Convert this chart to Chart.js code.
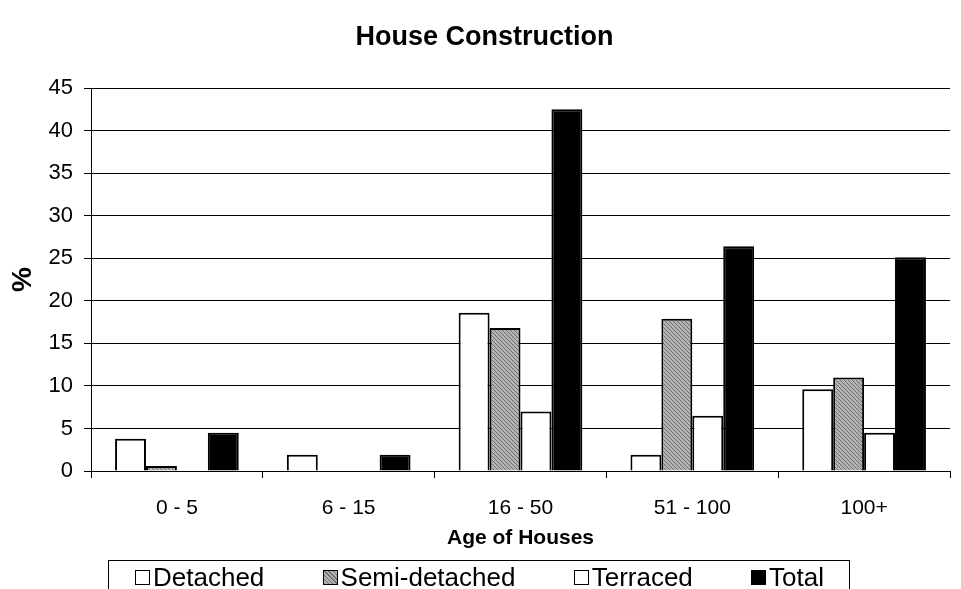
<!DOCTYPE html>
<html>
<head>
<meta charset="utf-8">
<script src="https://cdn.jsdelivr.net/npm/chart.js@4.4.1/dist/chart.umd.min.js"></script>
<style>
    html, body { margin:0; padding:0; background:#fff; overflow:hidden; }
    #contenedor { position:relative; width:961px; height:589px; }
    #grafico { display:block; }
    #leyenda {
        position:absolute;
        left:108px;
        top:560px;
        width:742px;
        height:40px;
        box-sizing:border-box;
        padding:3px 25px 0 26px;
        border:1px solid #000;
        display:flex;
        justify-content:space-between;
        align-items:flex-start;
        font-family:'Liberation Sans', Arial, sans-serif;
        font-size:26px;
        line-height:26px;
        color:#000;
    }
    #leyenda .item { display:flex; align-items:center; white-space:nowrap; }
    #leyenda .marca {
        width:15px;
        height:15px;
        border:1px solid #000;
        margin-right:3px;
        box-sizing:border-box;
    }
</style>
</head>
<body>
<div id="contenedor">
    <canvas id="grafico" width="961" height="589"></canvas>
    <div id="leyenda"></div>
</div>
<script>

const categorias = ["0 - 5", "6 - 15", "16 - 50", "51 - 100", "100+"];

const detached = [3.8, 1.9, 18.6, 1.9, 9.6];
const semiDetached = [0.6, 0, 16.8, 17.9, 11.0];
const terraced = [0, 0, 7.0, 6.5, 4.5];
const total = [4.5, 1.9, 42.5, 26.4, 25.1];

const tituloGrafico = "House Construction";
const tituloEjeX = "Age of Houses";
const tituloEjeY = "%";

const fuente = "'Liberation Sans', Arial, sans-serif";

function crearTrama(){

    const c = document.createElement("canvas");
    c.width = 4;
    c.height = 4;
    const ctx = c.getContext("2d");

    ctx.fillStyle = "#b4b4b4";
    ctx.fillRect(0, 0, 4, 4);

    ctx.fillStyle = "#6e6e6e";
    for(let i = 0; i < 4; i++){
        ctx.fillRect(i, i, 1, 1);
    }

    return ctx.createPattern(c, "repeat");
}

// titulo del grafico, centrado en el lienzo
const titulo = {
    id: "titulo",
    afterDraw(chart){

        const ctx = chart.ctx;

        ctx.save();
        ctx.fillStyle = "#000";
        ctx.font = "bold 27px " + fuente;
        ctx.textAlign = "center";
        ctx.textBaseline = "middle";
        ctx.fillText(tituloGrafico, chart.width / 2 + 4, 38);
        ctx.restore();
    }
};

function crearLeyenda(chart){

    const caja = document.getElementById("leyenda");
    const rellenos = [
        "#fff",
        "repeating-linear-gradient(45deg, #6e6e6e 0 1px, #b4b4b4 1px 3px)",
        "#fff",
        "#000"
    ];

    chart.data.datasets.forEach((d, i) => {
        const item = document.createElement("div");
        item.className = "item";

        const marca = document.createElement("span");
        marca.className = "marca";
        marca.style.background = rellenos[i];

        const texto = document.createElement("span");
        texto.textContent = d.label;

        item.appendChild(marca);
        item.appendChild(texto);
        caja.appendChild(item);
    });
}

window.onload = () => {

    const trama = crearTrama();

    const borde = {
        borderColor: "#000",
        borderWidth: 2,
        borderSkipped: "bottom",
        barPercentage: 1,
        categoryPercentage: 0.72
    };

    const chart = new Chart(
        document.getElementById("grafico"),
        {
            type: "bar",
            data: {
                labels: categorias,
                datasets: [
                    { label: "Detached", data: detached, backgroundColor: "#fff", ...borde },
                    { label: "Semi-detached", data: semiDetached, backgroundColor: trama, ...borde },
                    { label: "Terraced", data: terraced, backgroundColor: "#fff", ...borde },
                    { label: "Total", data: total, backgroundColor: "#000", ...borde }
                ]
            },
            plugins: [titulo],
            options: {
                responsive: false,
                animation: false,
                layout: {
                    padding: { top: 88, right: 11, left: 0, bottom: 38 }
                },
                plugins: {
                    title: { display: false },
                    tooltip: { enabled: false },
                    legend: { display: false }
                },
                scales: {
                    x: {
                        grid: {
                            offset: true,
                            drawOnChartArea: false,
                            drawTicks: true,
                            tickLength: 7,
                            color: "#000"
                        },
                        border: { color: "#000", width: 1 },
                        ticks: {
                            color: "#000",
                            font: { family: fuente, size: 21 },
                            padding: 18
                        },
                        title: {
                            display: true,
                            text: tituloEjeX,
                            color: "#000",
                            font: { family: fuente, size: 21, weight: "bold" },
                            padding: 0
                        },
                        afterFit(scale){
                            scale.height = 80;
                        }
                    },
                    y: {
                        min: 0,
                        max: 45,
                        ticks: {
                            stepSize: 5,
                            color: "#000",
                            font: { family: fuente, size: 22 },
                            padding: 11
                        },
                        grid: {
                            color: "#000",
                            lineWidth: 1,
                            tickLength: 7
                        },
                        border: { color: "#000", width: 1 },
                        title: {
                            display: true,
                            text: tituloEjeY,
                            color: "#000",
                            font: { family: fuente, size: 28, weight: "bold" },
                            padding: { top: 6, bottom: 0 }
                        },
                        afterFit(scale){
                            scale.width = 91;
                        }
                    }
                }
            }
        }
    );

    crearLeyenda(chart);
};
</script>
</body>
</html>
